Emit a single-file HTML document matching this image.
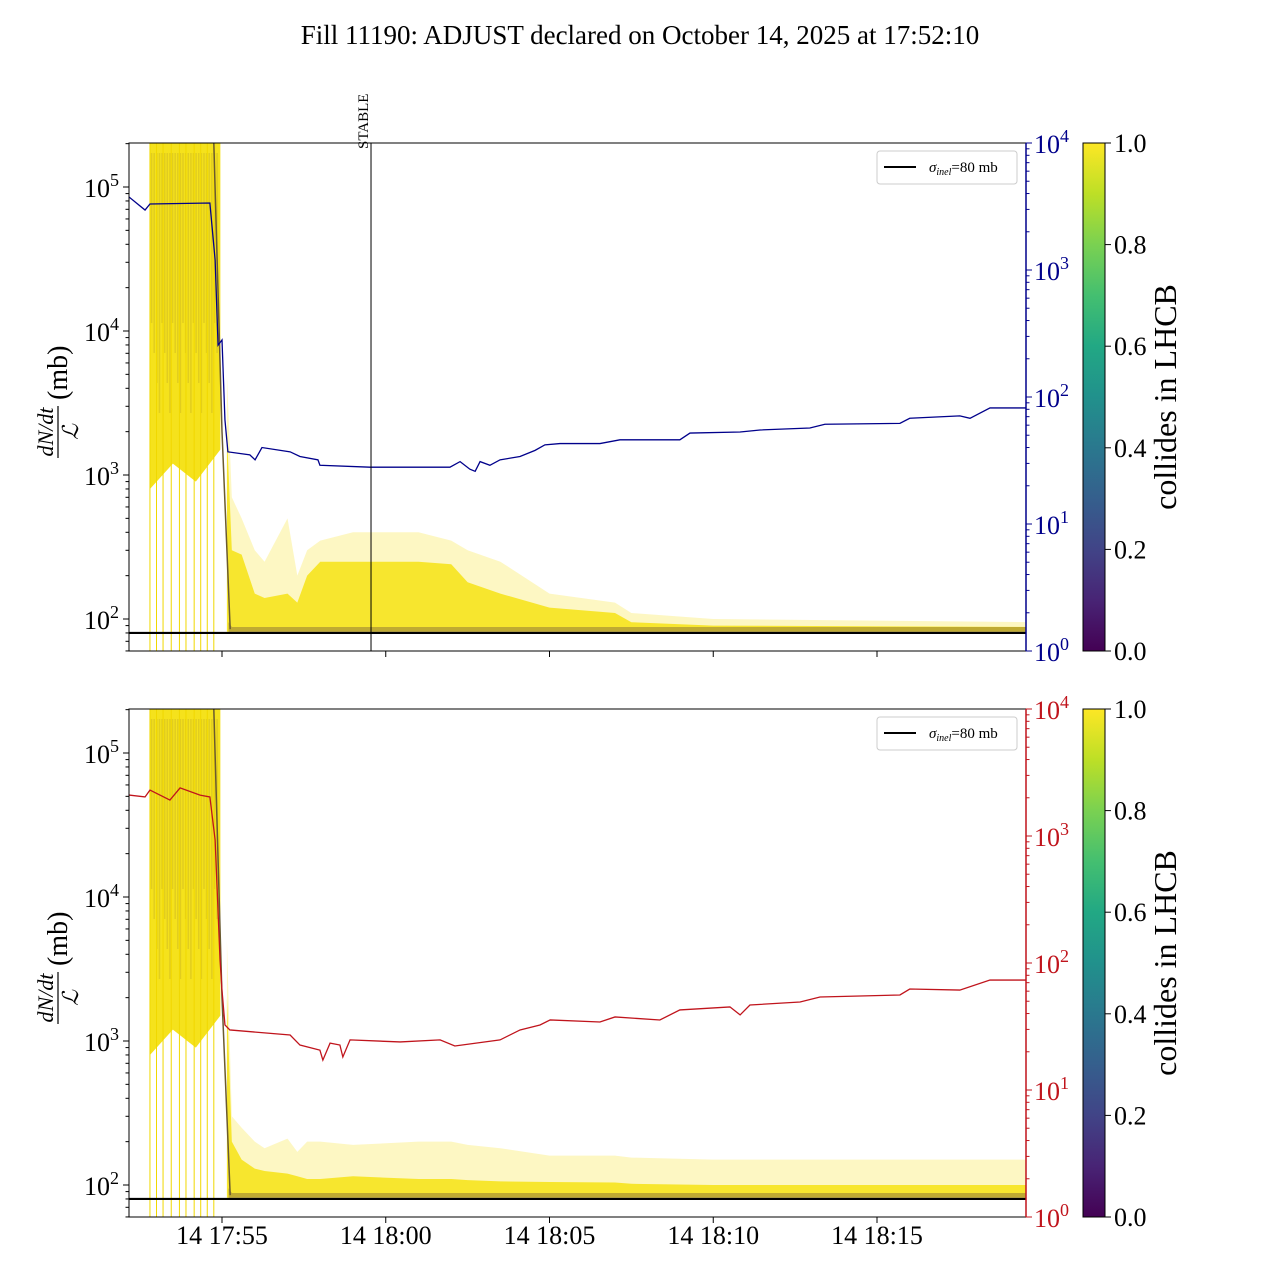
<!DOCTYPE html>
<html><head><meta charset="utf-8"><style>
html,body{margin:0;padding:0;background:#fff;}
svg{display:block;font-family:"Liberation Serif","DejaVu Serif",serif;}
</style></head><body>
<svg id="c" width="1280" height="1280" xmlns="http://www.w3.org/2000/svg">
<defs>
<linearGradient id="vir" x1="0" y1="1" x2="0" y2="0">
<stop offset="0" stop-color="#440154"/><stop offset="0.1" stop-color="#482475"/><stop offset="0.2" stop-color="#414487"/><stop offset="0.3" stop-color="#355f8d"/><stop offset="0.4" stop-color="#2a788e"/><stop offset="0.5" stop-color="#21918c"/><stop offset="0.6" stop-color="#22a884"/><stop offset="0.7" stop-color="#44bf70"/><stop offset="0.8" stop-color="#7ad151"/><stop offset="0.9" stop-color="#bddf26"/><stop offset="1" stop-color="#fde725"/>
</linearGradient>
</defs>
<text x="640" y="44" font-size="27" text-anchor="middle">Fill 11190: ADJUST declared on October 14, 2025 at 17:52:10</text>
</svg>
<script>
// times in minutes after 17:50
const xTickMinutes=[5,10,15,20,25];
const xTickLabels=["14 17:55","14 18:00","14 18:05","14 18:10","14 18:15"];
const blueT=[2.16,2.65,2.80,4.63,4.79,4.88,5.0,5.09,5.18,5.85,6.01,6.22,7.08,7.38,7.93,7.99,9.52,11.96,12.27,12.57,12.73,12.88,13.18,13.49,14.10,14.56,14.86,15.32,16.54,17.15,18.98,19.29,20.82,21.43,22.95,23.41,25.70,26.0,27.53,27.84,28.45,29.55];
const blueV=[3760,2965,3310,3370,1200,256,281,66,37,35,32,40,37,34,32,29,28,28,31,27,26,31,29,32,34,38,42,43,43,46,46,52,53,55,57,61,62,68,71,68,82,82];
const redT=[2.16,2.65,2.80,3.41,3.72,4.33,4.63,4.79,4.94,5.0,5.09,5.24,7.08,7.38,7.99,8.08,8.30,8.60,8.69,8.91,10.44,11.66,12.11,13.49,14.10,14.71,15.02,16.54,17.0,18.37,18.98,20.51,20.82,21.12,22.65,23.26,25.70,26.0,27.53,28.45,29.55];
const redV=[2100,2030,2300,1920,2390,2100,2030,931,106,61,32.5,29.7,27.1,22.6,20.6,17.2,23.4,22.6,18.2,24.8,23.9,24.8,22.2,24.8,29.7,32.5,35.6,34.3,37.6,35.6,42.7,45.1,39.0,46.7,49.3,54.0,56.0,62.4,61.2,73.4,73.4];
const bandT=[5.15,5.3,5.6,6.0,6.3,7.0,7.3,7.6,8.0,9.0,11.0,12.0,12.5,13.5,15.0,17.0,17.5,20.0,30.0];
const topDense=[2000,300,280,150,140,150,130,200,250,250,250,240,180,150,120,110,95,90,88];
const topLight=[5000,700,500,300,250,500,200,300,350,400,400,350,300,250,150,130,110,100,95];
const botDense=[2000,200,150,130,125,120,115,110,110,115,110,110,108,106,105,104,102,100,100];
const botLight=[5000,300,250,200,180,210,170,200,200,190,200,200,190,180,160,160,155,150,150];
const earlyLines=[2.8,3.0,3.2,3.45,3.7,3.9,4.15,4.35,4.55,4.75];
const cbTicks=[0,0.2,0.4,0.6,0.8,1.0];
const sigma=80;

const svg=document.getElementById('c');
const NS='http://www.w3.org/2000/svg';
function mk(tag,attrs,parent){const e=document.createElementNS(NS,tag);for(const k in attrs)e.setAttribute(k,attrs[k]);(parent||svg).appendChild(e);return e;}
const X0=129,X1=1026;
function xs(t){return 222+(t-5)*32.75;}

function panel(top,lineT,lineV,lineColor,dense,light,idx,stable){
  const bot=top+508;
  const yl=v=>top+44+(5-Math.log10(v))*144;
  const yr=v=>top+(4-Math.log10(v))*127;
  const g=mk('g',{});
  
  
  mk('clipPath',{id:'cp'+idx},g);
  mk('rect',{x:X0,y:top,width:X1-X0,height:508},g.lastChild);
  const pg=mk('g',{'clip-path':'url(#cp'+idx+')'},g);
  // early saturated block
  const blk=mk('path',{d:'M'+xs(2.8)+','+top+' L'+xs(4.95)+','+top+' L'+xs(4.95)+','+yl(1500)+' L'+xs(4.2)+','+yl(900)+' L'+xs(3.5)+','+yl(1200)+' L'+xs(2.8)+','+yl(800)+' Z',fill:'#f5e21c'},pg);
  
  
  for(let i=0;i<26;i++){
    mk('line',{x1:xs(2.85+i*0.08),y1:top+10,x2:xs(2.85+i*0.08),y2:top+180+(i%4)*30,stroke:'#8a7030','stroke-opacity':0.18,'stroke-width':1.5},pg);
  }
  earlyLines.forEach(t=>{
    const l=mk('line',{x1:xs(t),y1:top,x2:xs(t),y2:bot,stroke:'#f0d800','stroke-width':1},pg);
    
    
  });
  function area(arr,fill,op,name){
    let d='M'+xs(bandT[0])+','+yl(sigma*1.02);
    bandT.forEach((t,i)=>{d+=' L'+xs(t)+','+yl(arr[i]);});
    d+=' L'+xs(bandT[bandT.length-1])+','+yl(sigma*1.02)+' Z';
    const p=mk('path',{d:d,fill:fill,'fill-opacity':op},pg);
    
    
  }
  area(light,'#fbee7a',0.45,'light-envelope');
  area(dense,'#f6e31e',0.9,'dense-band');
  let d='M'+xs(5.2)+','+yl(95);
  bandT.slice(1).forEach(t=>{d+=' L'+xs(t)+','+yl(88);});
  d+=' L'+X1+','+yl(sigma)+' L'+xs(5.2)+','+yl(sigma)+' Z';
  const db=mk('path',{d:d,fill:'#6b4f3a','fill-opacity':0.4},pg);
  
  
  mk('path',{d:'M'+xs(4.75)+','+top+' L'+xs(5.0)+','+yl(2000)+' L'+xs(5.25)+','+yl(85),stroke:'#6a5a30','stroke-width':1.5,fill:'none'},pg);
  const sl=mk('line',{x1:X0,x2:X1,y1:yl(sigma),y2:yl(sigma),stroke:'#000','stroke-width':2.2},pg);
  
  
  const pts=lineT.map((t,i)=>xs(t)+','+yr(lineV[i])).join(' ');
  const pl=mk('polyline',{points:pts,fill:'none',stroke:lineColor,'stroke-width':1.3},pg);
  
  
  if(stable){
    const sx=xs(9.55);
    const s=mk('line',{x1:sx,x2:sx,y1:top,y2:bot,stroke:'#000','stroke-width':1},g);
    
    
    const st=mk('text',{x:0,y:0,'font-size':15,transform:'translate('+(sx-3)+','+(top+6)+') rotate(-90)'},g);
    st.textContent='STABLE';
    
    
  }
  mk('rect',{x:X0,y:top,width:X1-X0,height:508,fill:'none',stroke:'#000','stroke-width':1},g);
  [2,3,4,5].forEach(e=>{
    const y=yl(Math.pow(10,e));
    mk('line',{x1:X0-6,x2:X0,y1:y,y2:y,stroke:'#000'},g);
    const t=mk('text',{x:X0-10,y:y+10,'font-size':26,'text-anchor':'end'},g);
    t.innerHTML='10<tspan dy="-11" font-size="18">'+e+'</tspan>';
    
    
  });
  for(let e=1;e<=5;e++)for(let m=2;m<10;m++){const y=yl(m*Math.pow(10,e));if(y>top&&y<bot)mk('line',{x1:X0-3.5,x2:X0,y1:y,y2:y,stroke:'#000'},g);}
  [0,1,2,3,4].forEach(e=>{
    const y=yr(Math.pow(10,e));
    mk('line',{x1:X1,x2:X1+6,y1:y,y2:y,stroke:lineColor},g);
    const t=mk('text',{x:X1+8,y:y+10,'font-size':26,fill:lineColor},g);
    t.innerHTML='10<tspan dy="-11" font-size="18">'+e+'</tspan>';
    
    
  });
  mk('line',{x1:X1,x2:X1,y1:top,y2:bot,stroke:lineColor,'stroke-width':1.5},g);
  for(let e=0;e<4;e++)for(let m=2;m<10;m++){const y=yr(m*Math.pow(10,e));mk('line',{x1:X1,x2:X1+3.5,y1:y,y2:y,stroke:lineColor},g);}
  xTickMinutes.forEach((m,i)=>{
    const x=xs(m);
    mk('line',{x1:x,x2:x,y1:bot,y2:bot+6,stroke:'#000'},g);
    if(idx===2){
      const t=mk('text',{x:x,y:bot+27,'font-size':26,'text-anchor':'middle'},g);
      t.textContent=xTickLabels[i];
      
      
    }
  });
  const yg=mk('g',{transform:'translate(58,'+(top+265)+') rotate(-90)'},g);
  
  
  mk('text',{x:-24,y:-5,'font-size':22,'font-style':'italic','text-anchor':'middle'},yg).textContent='dN/dt';
  mk('line',{x1:-50,x2:2,y1:0,y2:0,stroke:'#000','stroke-width':1.2},yg);
  mk('text',{x:-24,y:20,'font-size':22,'font-style':'italic','text-anchor':'middle'},yg).textContent='ℒ';
  mk('text',{x:8,y:9,'font-size':28},yg).textContent='(mb)';
  const lg=mk('g',{},g);
  
  
  mk('rect',{x:877,y:top+8,width:140,height:33,rx:3,fill:'#fff',stroke:'#ccc'},lg);
  mk('line',{x1:884,x2:916,y1:top+24,y2:top+24,stroke:'#000','stroke-width':2},lg);
  const lt=mk('text',{x:929,y:top+29,'font-size':15},lg);
  lt.innerHTML='<tspan font-style="italic">σ</tspan><tspan font-size="10" dy="3" font-style="italic">inel</tspan><tspan dy="-3">=80 mb</tspan>';
  const cb=mk('g',{},g);
  
  
  mk('rect',{x:1083,y:top,width:22,height:508,fill:'url(#vir)',stroke:'#000','stroke-width':1},cb);
  cbTicks.forEach(v=>{
    const y=bot-v*508;
    mk('line',{x1:1105,x2:1111,y1:y,y2:y,stroke:'#000'},cb);
    const t=mk('text',{x:1114,y:y+9,'font-size':26},cb);
    t.textContent=v.toFixed(1);
    
    
  });
  const ct=mk('text',{x:0,y:0,'font-size':32,'text-anchor':'middle',transform:'translate(1176,'+(top+254)+') rotate(-90)'},cb);
  ct.textContent='collides in LHCB';
  
  
}
panel(143,blueT,blueV,'#00008b',topDense,topLight,1,true);
panel(709,redT,redV,'#c0141c',botDense,botLight,2,false);
</script>
</body></html>
